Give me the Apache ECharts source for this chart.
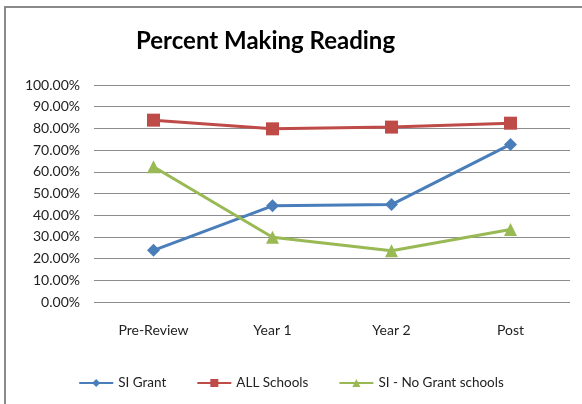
<!DOCTYPE html>
<html>
<head>
<meta charset="utf-8">
<script src="https://cdn.jsdelivr.net/npm/echarts@6/dist/echarts.min.js"></script>
<style>
html,body{margin:0;padding:0;background:#fff;}
#c{width:582px;height:404px;}
</style>
</head>
<body>
<div id="c"></div>
<script>
var categories = ['Pre-Review', 'Year 1', 'Year 2', 'Post'];
var siGrant = [23.8, 44.3, 44.9, 72.6];
var allSchools = [83.8, 79.8, 80.6, 82.4];
var siNoGrant = [62.3, 29.8, 23.6, 33.4];
var seriesNames = ['SI Grant', 'ALL Schools', 'SI - No Grant schools'];

var chart = echarts.init(document.getElementById('c'));
var fontFam = 'Lato, "Open Sans", sans-serif';
chart.setOption({
  animation: false,
  backgroundColor: '#fff',
  title: {
    text: 'Percent Making Reading',
    left: 136,
    top: 29,
    textStyle: { fontFamily: fontFam, fontSize: 24, fontWeight: 'bold', color: '#000' },
    padding: 0
  },
  graphic: [
    { type: 'line', shape: { x1: 4, y1: 7, x2: 582, y2: 7 },
      style: { stroke: '#8a8a8a', lineWidth: 2 }, silent: true },
    { type: 'line', shape: { x1: 5, y1: 6, x2: 5, y2: 404 },
      style: { stroke: '#8a8a8a', lineWidth: 2 }, silent: true }
  ],
  legend: {
    top: 371,
    left: 'center',
    itemWidth: 34,
    itemHeight: 10,
    itemGap: 30,
    textStyle: { fontFamily: fontFam, fontSize: 13.5, color: '#222' },
    data: seriesNames
  },
  grid: { left: 94, right: 12, top: 85, bottom: 102 },
  xAxis: {
    type: 'category',
    data: categories,
    boundaryGap: true,
    axisLine: { show: false },
    axisTick: { show: false },
    axisLabel: { fontFamily: fontFam, fontSize: 14, color: '#222', margin: 21 }
  },
  yAxis: {
    type: 'value',
    min: 0, max: 100, interval: 10,
    axisLine: { show: false },
    axisTick: { show: false },
    splitLine: { lineStyle: { color: '#8c8c8c', width: 1 } },
    axisLabel: {
      fontFamily: fontFam, fontSize: 14, color: '#222', margin: 14,
      formatter: function (v) { return v.toFixed(2) + '%'; }
    }
  },
  series: [
    { name: seriesNames[0], type: 'line', data: siGrant, symbol: 'diamond', symbolSize: 13,
      lineStyle: { color: '#4A7EBB', width: 3 }, itemStyle: { color: '#4A7EBB' } },
    { name: seriesNames[1], type: 'line', data: allSchools, symbol: 'rect', symbolSize: 13,
      lineStyle: { color: '#BE4B48', width: 3 }, itemStyle: { color: '#BE4B48' } },
    { name: seriesNames[2], type: 'line', data: siNoGrant, symbol: 'triangle', symbolSize: 13,
      lineStyle: { color: '#98B954', width: 3 }, itemStyle: { color: '#98B954' } }
  ]
});
</script>
</body>
</html>
